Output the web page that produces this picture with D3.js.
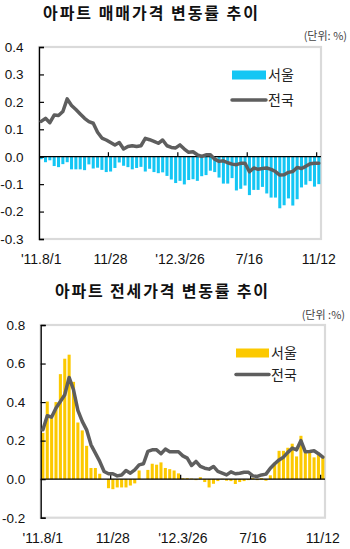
<!DOCTYPE html>
<html>
<head>
<meta charset="utf-8">
<script src="https://cdn.jsdelivr.net/npm/d3@7"></script>
<style>
  html, body { margin: 0; padding: 0; background: #fff; }
  svg { display: block; }
</style>
</head>
<body>
<svg id="chart" width="350" height="549"></svg>
<script>
// Weekly observations, 2011-08-01 through 2012-11-12
const weeks = d3.range(65);

// Category axis labels and the week index they sit on
const tickLabels = ["'11.8/1", "11/28", "'12.3/26", "7/16", "11/12"];
const tickWeeks = [0, 16, 32, 48, 64];

// Apartment sale price change rate (%)
const saleSeoul = [
  -0.009, -0.02, -0.013, -0.034, -0.038, -0.027, -0.02, -0.046, -0.046, -0.046,
  -0.049, -0.028, -0.043, -0.04, -0.048, -0.056, -0.054, -0.041, -0.021, -0.033,
  -0.038, -0.046, -0.041, -0.037, -0.054, -0.044, -0.056, -0.06, -0.057, -0.07,
  -0.083, -0.096, -0.088, -0.101, -0.085, -0.082, -0.088, -0.071, -0.067, -0.051,
  -0.056, -0.076, -0.098, -0.098, -0.078, -0.123, -0.117, -0.105, -0.14, -0.121,
  -0.121, -0.11, -0.134, -0.149, -0.149, -0.188, -0.177, -0.152, -0.178, -0.155,
  -0.112, -0.102, -0.089, -0.109, -0.1
];
const saleNation = [
  0.129, 0.14, 0.124, 0.152, 0.15, 0.165, 0.211, 0.187, 0.172, 0.156,
  0.14, 0.128, 0.122, 0.089, 0.068, 0.061, 0.052, 0.043, 0.052, 0.028,
  0.037, 0.04, 0.037, 0.04, 0.067, 0.062, 0.056, 0.049, 0.061, 0.04,
  0.034, 0.032, 0.043, 0.028, 0.016, 0.018, 0.007, 0.001, 0.007, 0.007,
  -0.009, -0.017, -0.015, -0.022, -0.027, -0.029, -0.024, -0.024, -0.055, -0.041,
  -0.046, -0.043, -0.041, -0.046, -0.054, -0.067, -0.066, -0.057, -0.054, -0.039,
  -0.043, -0.035, -0.026, -0.024, -0.024
];
const saleTicks = [-0.3, -0.2, -0.1, 0, 0.1, 0.2, 0.3, 0.4];

// Apartment jeonse (lease deposit) change rate (%)
const jeonseSeoul = [
  0.24, 0.403, 0.32, 0.40, 0.545, 0.625, 0.646, 0.505, 0.294, 0.253,
  0.173, 0.058, 0.058, 0.028, 0.0, -0.047, -0.052, -0.043, -0.043, -0.043,
  -0.033, -0.022, 0.045, 0.0, 0.048, 0.08, 0.075, 0.087, 0.058, 0.052,
  0.045, 0.03, 0.005, 0.005, 0.003, -0.005, 0.01, -0.015, -0.043, -0.024,
  -0.01, 0.002, -0.008, -0.01, -0.025, -0.015, -0.01, -0.005, 0.005, -0.005,
  0.005, -0.008, 0.02, 0.085, 0.147, 0.147, 0.163, 0.184, 0.118, 0.225,
  0.15, 0.15, 0.113, 0.137, 0.12
];
const jeonseNation = [
  0.256, 0.329, 0.322, 0.369, 0.403, 0.438, 0.528, 0.464, 0.357, 0.3,
  0.256, 0.178, 0.135, 0.092, 0.04, 0.028, 0.028, 0.017, 0.022, 0.045,
  0.031, 0.048, 0.074, 0.08, 0.144, 0.152, 0.152, 0.132, 0.156, 0.142,
  0.142, 0.142, 0.121, 0.109, 0.071, 0.092, 0.066, 0.057, 0.052, 0.066,
  0.04, 0.031, 0.022, 0.038, 0.028, 0.031, 0.036, 0.036, 0.017, 0.014,
  0.022, 0.026, 0.057, 0.08, 0.1, 0.114, 0.139, 0.161, 0.152, 0.2,
  0.142, 0.144, 0.147, 0.132, 0.114
];
const jeonseTicks = [-0.2, 0, 0.2, 0.4, 0.6, 0.8];

const legendNames = ["서울", "전국"];

const KR = "'Noto Sans CJK KR', 'Noto Sans', sans-serif";
const NUM = "'Liberation Sans', Arial, sans-serif";
const LINE_COLOR = "#5e5e5e";

const svg = d3.select("#chart");

function drawPanel(p) {
  const g = svg.append("g");

  const x = d3.scaleBand().domain(weeks).range([p.x0, p.x1])
    .paddingInner(0.3).paddingOuter(0.15);
  const edge = i => p.x0 + i * x.step();
  const y = d3.scaleLinear().domain(p.domain).range([p.yBottom, p.yTop]);

  // title and unit note
  g.append("text")
    .attr("x", p.titleX).attr("y", p.titleY)
    .attr("textLength", p.titleW).attr("lengthAdjust", "spacing")
    .attr("font-family", KR).attr("font-size", 16).attr("font-weight", 700)
    .attr("fill", "#111").text(p.title);
  g.append("text")
    .attr("x", p.unitX).attr("y", p.unitY).attr("text-anchor", "end")
    .attr("font-family", KR).attr("font-size", 11).attr("fill", "#444")
    .text(p.unit);

  // light plot frame
  g.append("rect")
    .attr("x", p.x0).attr("y", y(p.domain[1]))
    .attr("width", p.x1 - p.x0).attr("height", y(p.domain[0]) - y(p.domain[1]))
    .attr("fill", "none").attr("stroke", "#dadada").attr("stroke-width", 2.2);

  // Seoul bars
  g.append("g").selectAll("rect").data(p.seoul).join("rect")
    .attr("x", (d, i) => x(weeks[i]))
    .attr("width", x.bandwidth())
    .attr("y", d => Math.min(y(d), y(0)))
    .attr("height", d => Math.abs(y(d) - y(0)))
    .attr("fill", p.barColor);

  // zero baseline with upward category ticks
  g.append("line")
    .attr("x1", p.x0).attr("x2", p.x1)
    .attr("y1", y(0)).attr("y2", y(0))
    .attr("stroke", "#000").attr("stroke-width", 1.2);
  g.append("g").selectAll("line").data(tickWeeks.filter(i => i > 0)).join("line")
    .attr("x1", i => edge(i)).attr("x2", i => edge(i))
    .attr("y1", y(0)).attr("y2", y(0) - 4.5)
    .attr("stroke", "#000").attr("stroke-width", 1.2);

  // category labels
  g.append("g").selectAll("text").data(tickWeeks).join("text")
    .attr("x", i => edge(i) + x.step() / 2)
    .attr("y", p.labelY)
    .attr("text-anchor", "middle")
    .attr("font-family", NUM).attr("font-size", 14).attr("fill", "#111")
    .text((i, k) => tickLabels[k]);

  // value axis, ticks pointing into the plot
  const ax = g.append("g").attr("transform", `translate(${p.x0},0)`)
    .call(d3.axisLeft(y).tickValues(p.yTicks).tickSize(-5).tickPadding(15.5)
      .tickFormat(d => d.toFixed(1)));
  ax.select(".domain").attr("stroke", "#000").attr("stroke-width", 1.3);
  ax.selectAll(".tick line").attr("stroke", "#000").attr("stroke-width", 1.2);
  ax.selectAll(".tick text")
    .attr("font-family", NUM).attr("font-size", 13.5).attr("fill", "#111");

  // nationwide line
  const line = d3.line()
    .x((d, i) => x(weeks[i]) + x.bandwidth() / 2)
    .y(d => y(d));
  g.append("path").datum(p.nation)
    .attr("d", line).attr("fill", "none")
    .attr("stroke", LINE_COLOR).attr("stroke-width", 3.5)
    .attr("stroke-linejoin", "round").attr("stroke-linecap", "round");

  // legend
  const L = p.legend;
  g.append("rect")
    .attr("x", L.x).attr("y", L.y1 - 4.5).attr("width", L.w).attr("height", 9)
    .attr("fill", p.barColor);
  g.append("line")
    .attr("x1", L.x).attr("x2", L.x + L.w).attr("y1", L.y2).attr("y2", L.y2)
    .attr("stroke", LINE_COLOR).attr("stroke-width", 3.5).attr("stroke-linecap", "round");
  g.append("g").selectAll("text").data(legendNames).join("text")
    .attr("x", L.x + L.w + 2)
    .attr("y", (d, i) => (i === 0 ? L.y1 : L.y2) + 5)
    .attr("font-family", KR).attr("font-size", 14).attr("fill", "#222")
    .text(d => d);
}

drawPanel({
  title: "아파트 매매가격 변동률 추이", titleX: 43, titleY: 19, titleW: 215,
  unit: "(단위: %)", unitX: 347, unitY: 40,
  x0: 39, x1: 321, yTop: 47, yBottom: 239,
  domain: [-0.3, 0.4], yTicks: saleTicks,
  seoul: saleSeoul, nation: saleNation, barColor: "#14c6f4",
  labelY: 263.5,
  legend: { x: 232, w: 34, y1: 75, y2: 100 }
});

drawPanel({
  title: "아파트 전세가격 변동률 추이", titleX: 55, titleY: 297, titleW: 213,
  unit: "(단위 :%)", unitX: 345, unitY: 319,
  x0: 40.7, x1: 325, yTop: 325, yBottom: 517.7,
  domain: [-0.2, 0.8], yTicks: jeonseTicks,
  seoul: jeonseSeoul, nation: jeonseNation, barColor: "#fcc900",
  labelY: 543,
  legend: { x: 236, w: 33, y1: 353, y2: 374.5 }
});
</script>
</body>
</html>
